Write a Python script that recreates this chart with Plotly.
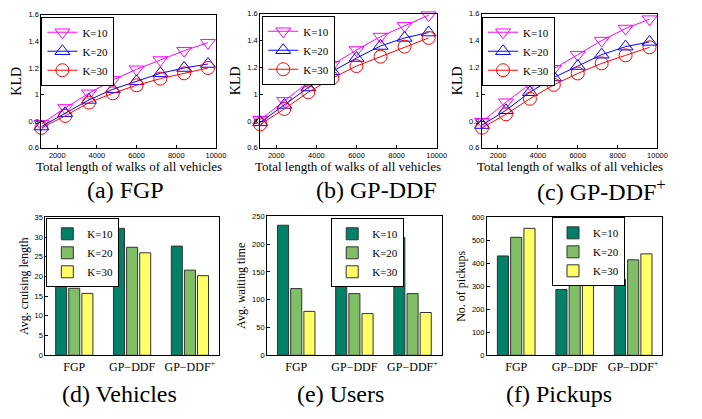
import plotly.graph_objects as go

# ---------------- data ----------------
walk_len = [1200, 2400, 3600, 4800, 6000, 7200, 8400, 9600]
k_labels = ["K=10", "K=20", "K=30"]

kld_fgp = {
    "K=10": [0.78, 0.90, 1.01, 1.11, 1.19, 1.26, 1.33, 1.39],
    "K=20": [0.76, 0.86, 0.96, 1.04, 1.10, 1.16, 1.20, 1.23],
    "K=30": [0.75, 0.84, 0.94, 1.01, 1.07, 1.12, 1.16, 1.20],
}
kld_gpddf = {
    "K=10": [0.81, 0.95, 1.09, 1.22, 1.33, 1.43, 1.51, 1.59],
    "K=20": [0.79, 0.92, 1.05, 1.17, 1.27, 1.36, 1.42, 1.46],
    "K=30": [0.775, 0.89, 1.015, 1.12, 1.21, 1.28, 1.355, 1.42],
}
kld_gpddfp = {
    "K=10": [0.795, 0.94, 1.075, 1.19, 1.295, 1.40, 1.49, 1.56],
    "K=20": [0.77, 0.88, 1.015, 1.125, 1.21, 1.295, 1.355, 1.39],
    "K=30": [0.75, 0.85, 0.966, 1.07, 1.155, 1.23, 1.29, 1.35],
}

methods = ["FGP", "GP−DDF", "GP−DDF<sup>+</sup>"]
cruising = {"K=10": [20.6, 32.2, 27.7], "K=20": [17.0, 27.4, 21.6], "K=30": [15.7, 26.0, 20.2]}
waiting = {"K=10": [234, 225, 212], "K=20": [120, 111, 111], "K=30": [79, 75, 77]}
pickups = {"K=10": [432, 286, 330], "K=20": [513, 331, 415], "K=30": [552, 347, 441]}

kld_xticks = [2000, 4000, 6000, 8000, 10000]
kld_yticks = [0.6, 0.8, 1.0, 1.2, 1.4, 1.6]
kld_yticktext = ["0.6", "0.8", "1", "1.2", "1.4", "1.6"]

line_colors = {"K=10": "#FF00FF", "K=20": "#0000FF", "K=30": "#FF0000"}
line_symbols = {"K=10": "triangle-down-open", "K=20": "triangle-up-open", "K=30": "circle-open"}
bar_colors = {"K=10": "rgb(0,128,102)", "K=20": "rgb(128,191,102)", "K=30": "rgb(255,255,102)"}

W, H = 702, 419
SERIF = "Liberation Serif"
SANS = "Liberation Sans"

def px_x(a, b):
    return [a / W, b / W]

def px_y(top, bottom):
    return [1 - bottom / H, 1 - top / H]

fig = go.Figure()

top_panels = [
    (kld_fgp, px_x(42, 219), px_y(11, 147), (42, 13)),
    (kld_gpddf, px_x(264, 443), px_y(10, 147), (266, 12)),
    (kld_gpddfp, px_x(489, 667), px_y(10, 147), (489, 13)),
]
bot_panels = [
    (cruising, px_x(46, 222), px_y(218, 359), (47, 219), [0, 35], list(range(0, 36, 5)), "Avg. cruising length"),
    (waiting, px_x(271, 448), px_y(217, 359), (336, 219), [0, 250], list(range(0, 251, 50)), "Avg. waiting time"),
    (pickups, px_x(494, 672), px_y(218, 359), (560, 218), [0, 600], list(range(0, 601, 100)), "No. of pickups"),
]

axis_common = dict(showline=True, linecolor="black", linewidth=1, mirror=True,
                   ticks="inside", ticklen=3, tickcolor="black", showgrid=False,
                   zeroline=False, tickfont=dict(family=SANS, size=7.5, color="black"))

legend_common = dict(xanchor="left", yanchor="top", bgcolor="white", bordercolor="black",
                     borderwidth=1, font=dict(family=SERIF, size=11, color="black"),
                     itemwidth=30, tracegroupgap=0)

layout = {}
annotations = []
idx = 1
for data, xd, yd, (lx, ly) in top_panels:
    xa = "x" if idx == 1 else f"x{idx}"
    ya = "y" if idx == 1 else f"y{idx}"
    lg = "legend" if idx == 1 else f"legend{idx}"
    for k in k_labels:
        fig.add_trace(go.Scatter(
            x=walk_len, y=data[k], name=k, mode="lines+markers",
            line=dict(color=line_colors[k], width=1),
            marker=dict(symbol=line_symbols[k], size=13, color=line_colors[k], line=dict(width=1)),
            cliponaxis=False, xaxis=xa, yaxis=ya, legend=lg))
    layout[f"xaxis{'' if idx == 1 else idx}"] = dict(
        domain=xd, range=[1200, 10000], tickvals=kld_xticks,
        ticktext=[str(v) for v in kld_xticks], anchor=ya, **axis_common)
    layout[f"yaxis{'' if idx == 1 else idx}"] = dict(
        domain=yd, range=[0.6, 1.6], tickvals=kld_yticks, ticktext=kld_yticktext, anchor=xa,
        title=dict(text="KLD", font=dict(family=SERIF, size=14, color="black"), standoff=3),
        **axis_common)
    layout[lg] = dict(x=lx / W, y=1 - ly / H, **legend_common)
    annotations.append(dict(text="Total length of walks of all vehicles",
                            x=(xd[0] + xd[1]) / 2, y=1 - 166 / H, xref="paper", yref="paper",
                            xanchor="center", yanchor="middle", showarrow=False,
                            font=dict(family=SERIF, size=13, color="black")))
    idx += 1

for data, xd, yd, (lx, ly), yr, yt, ytitle in bot_panels:
    xa = f"x{idx}"
    ya = f"y{idx}"
    lg = f"legend{idx}"
    for k in k_labels:
        fig.add_trace(go.Bar(
            x=methods, y=data[k], name=k,
            marker=dict(color=bar_colors[k], line=dict(color="#333333", width=1)),
            xaxis=xa, yaxis=ya, legend=lg))
    xc = dict(axis_common)
    xc["tickfont"] = dict(family=SERIF, size=12, color="black")
    xc["ticks"] = ""
    layout[f"xaxis{idx}"] = dict(domain=xd, range=[-0.5, 2.5], anchor=ya, **xc)
    layout[f"yaxis{idx}"] = dict(
        domain=yd, range=yr, tickvals=yt, anchor=xa,
        title=dict(text=ytitle, font=dict(family=SERIF, size=12, color="black"), standoff=3),
        **axis_common)
    layout[lg] = dict(x=lx / W, y=1 - ly / H, **legend_common)
    idx += 1

captions = [
    ("(a) FGP", 127, 190), ("(b) GP-DDF", 382, 190), ("(c) GP-DDF<sup>+</sup>", 610, 190),
    ("(d) Vehicles", 121, 399), ("(e) Users", 345, 399), ("(f) Pickups", 567, 399),
]
for t, cx, cy in captions:
    annotations.append(dict(text=t, x=cx / W, y=1 - cy / H, xref="paper", yref="paper",
                            xanchor="center", yanchor="middle", showarrow=False,
                            font=dict(family=SERIF, size=24, color="black")))

fig.update_layout(
    width=W, height=H, margin=dict(l=0, r=0, t=0, b=0),
    paper_bgcolor="white", plot_bgcolor="white",
    barmode="group", bargap=0.32, bargroupgap=0.16,
    annotations=annotations, **layout)

fig.write_html("out.html", config={"displayModeBar": False},
               post_script="document.body.style.margin='0px';")
